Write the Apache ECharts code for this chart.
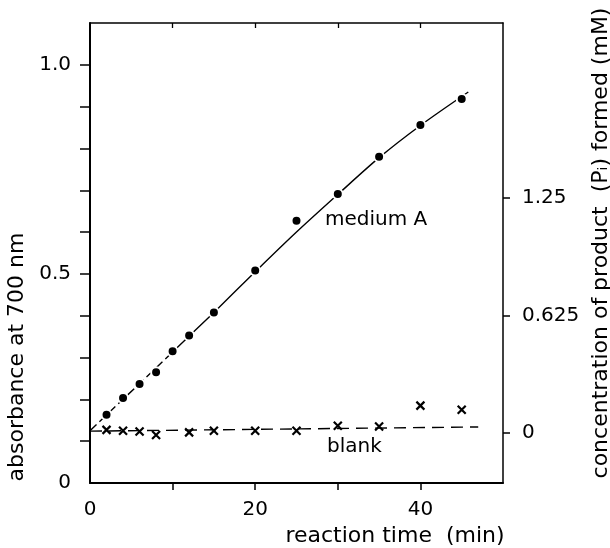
<!DOCTYPE html>
<html>
<head>
<meta charset="utf-8">
<script src="https://cdn.jsdelivr.net/npm/echarts@6/dist/echarts.min.js"></script>
<style>
  html, body { margin: 0; padding: 0; background: #fff; }
  #chart { width: 610px; height: 548px; }
</style>
</head>
<body>
<div id="chart"></div>
<script>
// ---- data ----
const timeA = [2, 4, 6, 8, 10, 12, 15, 20, 25, 30, 35, 40, 45];
const absA = [0.163, 0.203, 0.237, 0.265, 0.315, 0.353, 0.408, 0.508, 0.627, 0.691, 0.780, 0.856, 0.918];

const timeBlank = [2, 4, 6, 8, 12, 15, 20, 25, 30, 35, 40, 45];
const absBlank = [0.127, 0.125, 0.123, 0.115, 0.121, 0.125, 0.125, 0.125, 0.137, 0.135, 0.185, 0.175];

// hand-drawn curve through medium A points
const fitAX = [0, 10, 15, 20, 25, 30, 35, 40, 45.8];
const fitAY = [0.125, 0.313, 0.408, 0.505, 0.600, 0.690, 0.778, 0.855, 0.935];

// dashed blank baseline
const fitBX = [0, 47];
const fitBY = [0.124, 0.134];

// tick and label values
const xTickVals = [10, 20, 30, 40];
const xLabelVals = [0, 20, 40];
const yTickVals = [0.1, 0.2, 0.3, 0.4, 0.5, 0.6, 0.7, 0.8, 0.9, 1.0];
const yLabelVals = [0, 0.5, 1.0];
const rTickVals = [0, 0.625, 1.25];

const zip = (xs, ys) => xs.map((x, i) => [x, ys[i]]);

const FONT = 'DejaVu Sans';
const INK = '#000';

const chart = echarts.init(document.getElementById('chart'), null, { renderer: 'canvas' });

chart.setOption({
  backgroundColor: '#fff',
  animation: false,
  grid: { left: 90, right: 107, top: 23, bottom: 65, outerBoundsMode: 'none' },
  xAxis: [
    {
      type: 'value', min: 0, max: 50, position: 'bottom',
      axisLine: { show: true, onZero: false, lineStyle: { color: INK, width: 2 } },
      axisTick: { show: true, inside: false, length: 7, customValues: xTickVals, lineStyle: { color: INK, width: 1.5 } },
      axisLabel: { customValues: xLabelVals, margin: 17, color: INK, fontFamily: FONT, fontSize: 20 },
      splitLine: { show: false },
      name: 'reaction time  (min)', nameLocation: 'middle', nameGap: 35,
      nameTextStyle: { color: INK, fontFamily: FONT, fontSize: 22, padding: [0, 0, 0, 197] }
    },
    {
      type: 'value', min: 0, max: 50, position: 'top',
      axisLine: { show: true, onZero: false, lineStyle: { color: INK, width: 1.5 } },
      axisTick: { show: true, inside: true, length: 5, customValues: xTickVals, lineStyle: { color: INK, width: 1.3 } },
      axisLabel: { show: false },
      splitLine: { show: false }
    }
  ],
  yAxis: [
    {
      type: 'value', min: 0, max: 1.1, position: 'left',
      axisLine: { show: true, onZero: false, lineStyle: { color: INK, width: 2 } },
      axisTick: { show: true, inside: false, length: 10, customValues: yTickVals, lineStyle: { color: INK, width: 1.5 } },
      axisLabel: {
        customValues: yLabelVals, margin: 19, color: INK, fontFamily: FONT, fontSize: 20,
        formatter: v => (v === 0 ? '0' : v.toFixed(1))
      },
      splitLine: { show: false },
      name: 'absorbance at 700 nm', nameLocation: 'middle', nameRotate: 90, nameGap: 55,
      nameTextStyle: { color: INK, fontFamily: FONT, fontSize: 22, padding: [0, 208, 0, 0] }
    },
    {
      type: 'value', min: -0.266, max: 2.181, position: 'right',
      axisLine: { show: true, onZero: false, lineStyle: { color: INK, width: 1.5 } },
      axisTick: { show: true, inside: false, length: 7, customValues: rTickVals, lineStyle: { color: INK, width: 1.5 } },
      axisLabel: {
        customValues: rTickVals, margin: 19, color: INK, fontFamily: FONT, fontSize: 20,
        formatter: v => (v === 0 ? '0' : String(v))
      },
      splitLine: { show: false },
      name: 'concentration of product  (P\u1D62) formed (mM)', nameLocation: 'middle', nameRotate: 90, nameGap: 83,
      nameTextStyle: { color: INK, fontFamily: FONT, fontSize: 22, padding: [0, 0, 0, 20] }
    }
  ],
  graphic: [
    { type: 'text', left: 325, top: 210, style: { text: 'medium A', fill: INK, font: '20px "DejaVu Sans"' } },
    { type: 'text', left: 327, top: 437, style: { text: 'blank', fill: INK, font: '20px "DejaVu Sans"' } }
  ],
  series: [
    {
      name: 'medium A curve (early)', type: 'line', xAxisIndex: 0, yAxisIndex: 0,
      data: zip(fitAX.slice(0, 2), fitAY.slice(0, 2)),
      symbol: 'none', lineStyle: { color: INK, width: 1.4, type: [9, 4] }, z: 2, silent: true
    },
    {
      name: 'medium A curve', type: 'line', xAxisIndex: 0, yAxisIndex: 0,
      data: zip(fitAX.slice(1), fitAY.slice(1)), smooth: 0.3,
      symbol: 'none', lineStyle: { color: INK, width: 1.4 }, z: 2, silent: true
    },
    {
      name: 'blank line', type: 'line', xAxisIndex: 0, yAxisIndex: 0,
      data: zip(fitBX, fitBY),
      symbol: 'none', lineStyle: { color: INK, width: 1.4, type: [12, 7] }, z: 2, silent: true
    },
    {
      name: 'medium A', type: 'scatter', xAxisIndex: 0, yAxisIndex: 0,
      data: zip(timeA, absA),
      symbol: 'circle', symbolSize: 10,
      itemStyle: { color: INK, borderColor: '#fff', borderWidth: 2, opacity: 1 },
      emphasis: { disabled: true }, z: 5
    },
    {
      name: 'blank', type: 'scatter', xAxisIndex: 0, yAxisIndex: 0,
      data: zip(timeBlank, absBlank),
      symbol: 'path://M0,0L10,10M10,0L0,10', symbolSize: [8, 8],
      itemStyle: { color: INK, borderColor: INK, borderWidth: 2.2, opacity: 1 },
      emphasis: { disabled: true }, z: 5
    }
  ]
});
</script>
</body>
</html>
